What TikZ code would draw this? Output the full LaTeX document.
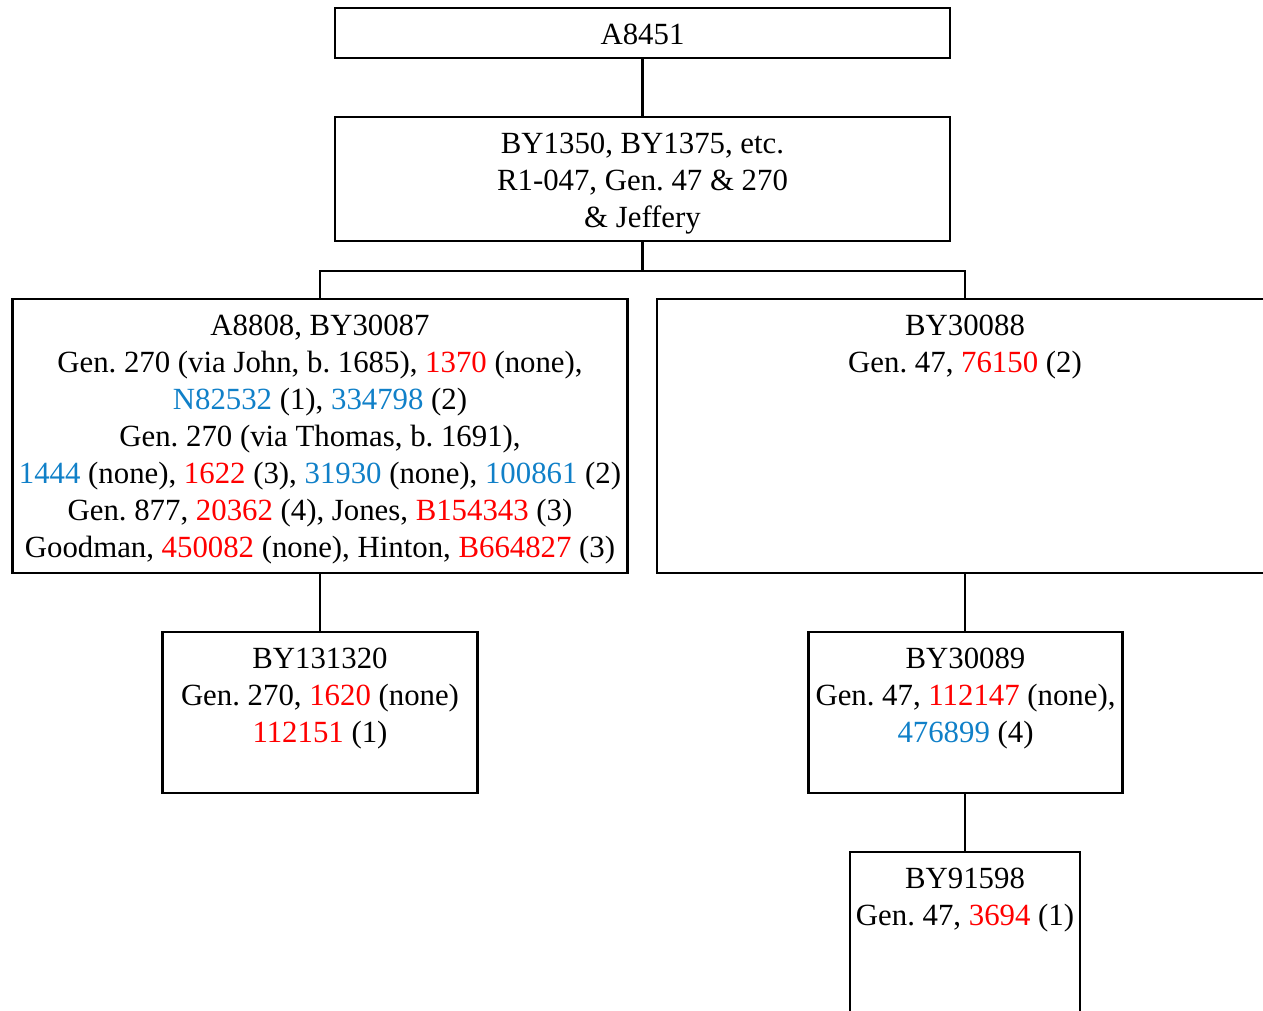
\documentclass[tikz,border=0pt]{standalone}
\usepackage{fontspec}
\setmainfont{Liberation Serif}
\usepackage{xcolor}
\definecolor{hapred}{RGB}{255,0,0}
\definecolor{hapblue}{RGB}{16,128,200}
\newcommand{\rd}[1]{\textcolor{hapred}{#1}}
\newcommand{\bl}[1]{\textcolor{hapblue}{#1}}
\frenchspacing

\begin{document}
\begin{tikzpicture}[x=0.5pt,y=-0.5pt,
		box/.style={draw,line width=1.1pt,inner sep=0pt},
		txt/.style={anchor=north,align=center,inner sep=0pt,font=\fontsize{15.4}{18.5}\selectfont},
		link/.style={line width=1.1pt}]
		\useasboundingbox (0,0) rectangle (1263,1011);
		\clip (0,0) rectangle (1263,1011);
		\node[box,minimum width=307.5pt,minimum height=25pt] (a8451) at (642.5,33) {};
		\node[box,minimum width=307.5pt,minimum height=62pt] (by1350) at (642.5,179) {};
		\node[box,minimum width=307.5pt,minimum height=137pt] (a8808) at (320,436) {};
		\node[box,minimum width=308pt,minimum height=137pt] (by30088) at (965,436) {};
		\node[box,minimum width=157.5pt,minimum height=80.5pt] (by131320) at (320,712.5) {};
		\node[box,minimum width=157pt,minimum height=80.5pt] (by30089) at (965.5,712.5) {};
		\node[box,minimum width=115pt,minimum height=80.5pt] (by91598) at (965,932.5) {};
		\node[txt] (a8451text) at ([yshift=-8.5pt]a8451.north) {A8451};
		\node[txt] (by1350text) at ([yshift=-8.5pt]by1350.north) {BY1350, BY1375, etc.\\R1-047, Gen. 47 \& 270\\\& Jeffery};
		\node[txt] (a8808text) at ([yshift=-8.5pt]a8808.north) {A8808, BY30087\\Gen. 270 (via John, b. 1685), \rd{1370} (none),\\\bl{N82532} (1), \bl{334798} (2)\\Gen. 270 (via Thomas, b. 1691),\\\bl{1444} (none), \rd{1622} (3), \bl{31930} (none), \bl{100861} (2)\\Gen. 877, \rd{20362} (4), Jones, \rd{B154343} (3)\\Goodman, \rd{450082} (none), Hinton, \rd{B664827} (3)};
		\node[txt] (by30088text) at ([yshift=-8.5pt]by30088.north) {BY30088\\Gen. 47, \rd{76150} (2)};
		\node[txt] (by131320text) at ([yshift=-8.5pt]by131320.north) {BY131320\\Gen. 270, \rd{1620} (none)\\\rd{112151} (1)};
		\node[txt] (by30089text) at ([yshift=-8.5pt]by30089.north) {BY30089\\Gen. 47, \rd{112147} (none),\\\bl{476899} (4)};
		\node[txt] (by91598text) at ([yshift=-8.5pt]by91598.north) {BY91598\\Gen. 47, \rd{3694} (1)};
		\coordinate (fork) at ([yshift=-14.5pt]by1350.south);
		\draw[link] (a8451.south) -- (by1350.north);
		\draw[link] (by1350.south) -- (fork) -| (a8808.north);
		\draw[link] (fork) -| (by30088.north);
		\draw[link] (a8808.south) -- (by131320.north);
		\draw[link] (by30088.south) -- (by30089.north -| by30088.south);
		\draw[link] (by30089.south -| by91598.north) -- (by91598.north);
	\end{tikzpicture}
\end{document}
